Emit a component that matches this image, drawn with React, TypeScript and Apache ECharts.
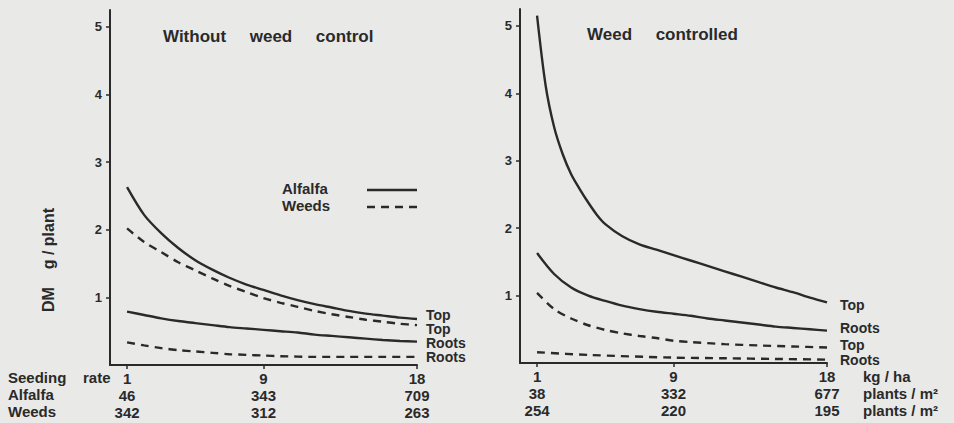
import React, { useEffect, useRef } from "react";
import * as echarts from "echarts";

// ---- data ----
const rateTicks = [1, 9, 18]; // seeding rate kg/ha
const leftAlfalfaDensity = [46, 343, 709];
const leftWeedDensity = [342, 312, 263];
const rightAlfalfaDensity = [38, 332, 677];
const rightWeedDensity = [254, 220, 195];
const yTicks = [1, 2, 3, 4, 5];

// Without weed control
const leftAlfalfaTop = [
  [1, 2.63], [2, 2.22], [3, 1.95], [4, 1.73], [5, 1.55], [6, 1.41], [7, 1.29], [8, 1.19], [9, 1.11],
  [10, 1.03], [11, 0.96], [12, 0.9], [13, 0.85], [14, 0.8], [15, 0.76], [16, 0.73], [17, 0.7], [18, 0.68],
];
const leftWeedsTop = [
  [1, 2.02], [2, 1.82], [3, 1.67], [4, 1.52], [5, 1.4], [6, 1.28], [7, 1.17], [8, 1.08], [9, 0.99],
  [10, 0.92], [11, 0.86], [12, 0.8], [13, 0.75], [14, 0.71], [15, 0.67], [16, 0.64], [17, 0.61], [18, 0.59],
];
const leftAlfalfaRoots = [
  [1, 0.79], [2, 0.74], [3, 0.69], [4, 0.65], [5, 0.62], [6, 0.59], [7, 0.56], [8, 0.54], [9, 0.52],
  [10, 0.5], [11, 0.48], [12, 0.45], [13, 0.43], [14, 0.41], [15, 0.39], [16, 0.37], [17, 0.355], [18, 0.345],
];
const leftWeedsRoots = [
  [1, 0.335], [2, 0.29], [3, 0.25], [4, 0.22], [5, 0.2], [6, 0.18], [7, 0.16], [8, 0.15], [9, 0.14],
  [10, 0.13], [12, 0.12], [14, 0.12], [16, 0.12], [18, 0.12],
];

// Weed controlled
const rightAlfalfaTop = [
  [1, 5.15], [1.5, 4.12], [2, 3.5], [2.5, 3.1], [3, 2.8], [3.5, 2.58], [4, 2.38], [4.5, 2.2], [5, 2.06],
  [6, 1.88], [7, 1.76], [8, 1.68], [9, 1.6], [10, 1.52], [11, 1.44], [12, 1.36], [13, 1.28], [14, 1.2],
  [15, 1.12], [16, 1.05], [17, 0.97], [18, 0.9],
];
const rightAlfalfaRoots = [
  [1, 1.63], [2, 1.32], [3, 1.12], [4, 1.0], [5, 0.92], [6, 0.85], [7, 0.8], [8, 0.76], [9, 0.73],
  [10, 0.7], [11, 0.66], [12, 0.63], [13, 0.6], [14, 0.57], [15, 0.54], [16, 0.52], [17, 0.5], [18, 0.48],
];
const rightWeedsTop = [
  [1, 1.04], [2, 0.8], [3, 0.66], [4, 0.56], [5, 0.49], [6, 0.44], [7, 0.4], [8, 0.37], [9, 0.33],
  [10, 0.31], [12, 0.28], [14, 0.26], [16, 0.245], [18, 0.23],
];
const rightWeedsRoots = [
  [1, 0.16], [4, 0.12], [9, 0.08], [12, 0.07], [15, 0.06], [18, 0.05],
];

const INK = "#2a2a2a";
const BG = "#e9e9e8";
const FONT = "Liberation Sans, Arial, sans-serif";

function makeSeries(
  data: number[][],
  axis: number,
  dashed: boolean,
  label: string,
  offset: number[]
) {
  return {
    type: "line",
    xAxisIndex: axis,
    yAxisIndex: axis,
    data,
    smooth: 0.3,
    showSymbol: false,
    symbol: "none",
    silent: true,
    lineStyle: { color: INK, width: 2.4, type: dashed ? [8, 6] : "solid" },
    endLabel: {
      show: true,
      formatter: label,
      offset,
      color: INK,
      fontFamily: FONT,
      fontWeight: "bold",
      fontSize: 14,
      lineHeight: 12,
    },
  };
}

function xAxisFor(index: number, a: number[], w: number[]) {
  return {
    type: "value",
    gridIndex: index,
    min: 0,
    max: 18,
    splitLine: { show: false },
    axisLine: { show: true, lineStyle: { color: INK, width: 2 } },
    axisTick: { show: true, customValues: rateTicks, length: 4, lineStyle: { color: INK, width: 1.5 } },
    axisLabel: {
      customValues: rateTicks,
      margin: 5,
      color: INK,
      fontFamily: FONT,
      fontWeight: "bold",
      fontSize: 15,
      lineHeight: 17,
      formatter: (v: number) => {
        const i = rateTicks.indexOf(v);
        return `${v}\n${a[i]}\n${w[i]}`;
      },
    },
  };
}

function yAxisFor(index: number) {
  return {
    type: "value",
    gridIndex: index,
    min: 0,
    max: 5.25,
    splitLine: { show: false },
    axisLine: { show: true, lineStyle: { color: INK, width: 2 } },
    axisTick: { show: true, customValues: yTicks, length: 4, lineStyle: { color: INK, width: 1.5 } },
    axisLabel: {
      customValues: yTicks,
      margin: 8,
      color: INK,
      fontFamily: FONT,
      fontWeight: "bold",
      fontSize: 13,
    },
  };
}

const textStyle = (size: number) => ({
  fill: INK,
  font: `bold ${size}px ${FONT}`,
});

export default function App() {
  const ref = useRef<HTMLDivElement>(null);
  useEffect(() => {
    if (!ref.current) return;
    const chart = echarts.init(ref.current, undefined, { renderer: "svg" });
    chart.setOption({
      animation: false,
      backgroundColor: BG,
      grid: [
        { left: 110, top: 10, width: 307, bottom: 58 },
        { left: 520, top: 9, width: 307, bottom: 60 },
      ],
      xAxis: [
        xAxisFor(0, leftAlfalfaDensity, leftWeedDensity),
        xAxisFor(1, rightAlfalfaDensity, rightWeedDensity),
      ],
      yAxis: [yAxisFor(0), yAxisFor(1)],
      series: [
        makeSeries(leftAlfalfaTop, 0, false, "Top", [1, -4]),
        makeSeries(leftWeedsTop, 0, true, "Top", [1, 4]),
        makeSeries(leftAlfalfaRoots, 0, false, "Roots", [1, 1.5]),
        makeSeries(leftWeedsRoots, 0, true, "Roots", [1, 0.5]),
        makeSeries(rightAlfalfaTop, 1, false, "Top", [5, 3]),
        makeSeries(rightAlfalfaRoots, 1, false, "Roots", [5, -3]),
        makeSeries(rightWeedsTop, 1, true, "Top", [5, -2.5]),
        makeSeries(rightWeedsRoots, 1, true, "Roots", [5, 0]),
      ],
      graphic: [
        { type: "text", left: 163, top: 28, style: { text: "Without     weed     control", ...textStyle(17) } },
        { type: "text", left: 587, top: 26, style: { text: "Weed     controlled", ...textStyle(17) } },
        {
          type: "text",
          x: 48,
          y: 260,
          rotation: Math.PI / 2,
          style: { text: "DM    g / plant", align: "center", verticalAlign: "middle", ...textStyle(16) },
        },
        { type: "text", left: 282, top: 181, style: { text: "Alfalfa", ...textStyle(15) } },
        { type: "text", left: 282, top: 198, style: { text: "Weeds", ...textStyle(15) } },
        { type: "line", shape: { x1: 367, y1: 190, x2: 417, y2: 190 }, style: { stroke: INK, lineWidth: 2.4 } },
        {
          type: "line",
          shape: { x1: 367, y1: 207, x2: 417, y2: 207 },
          style: { stroke: INK, lineWidth: 2.4, lineDash: [8, 6] },
        },
        { type: "text", left: 8, top: 370, style: { text: "Seeding    rate", ...textStyle(15) } },
        { type: "text", left: 8, top: 387, style: { text: "Alfalfa", ...textStyle(15) } },
        { type: "text", left: 8, top: 404, style: { text: "Weeds", ...textStyle(15) } },
        { type: "text", left: 863, top: 369, style: { text: "kg / ha", ...textStyle(15) } },
        { type: "text", left: 863, top: 386, style: { text: "plants / m²", ...textStyle(15) } },
        { type: "text", left: 863, top: 403, style: { text: "plants / m²", ...textStyle(15) } },
      ],
    });
    return () => chart.dispose();
  }, []);
  return (
    <div
      ref={ref}
      style={{ position: "absolute", left: 0, top: 0, width: 954, height: 423 }}
    />
  );
}
